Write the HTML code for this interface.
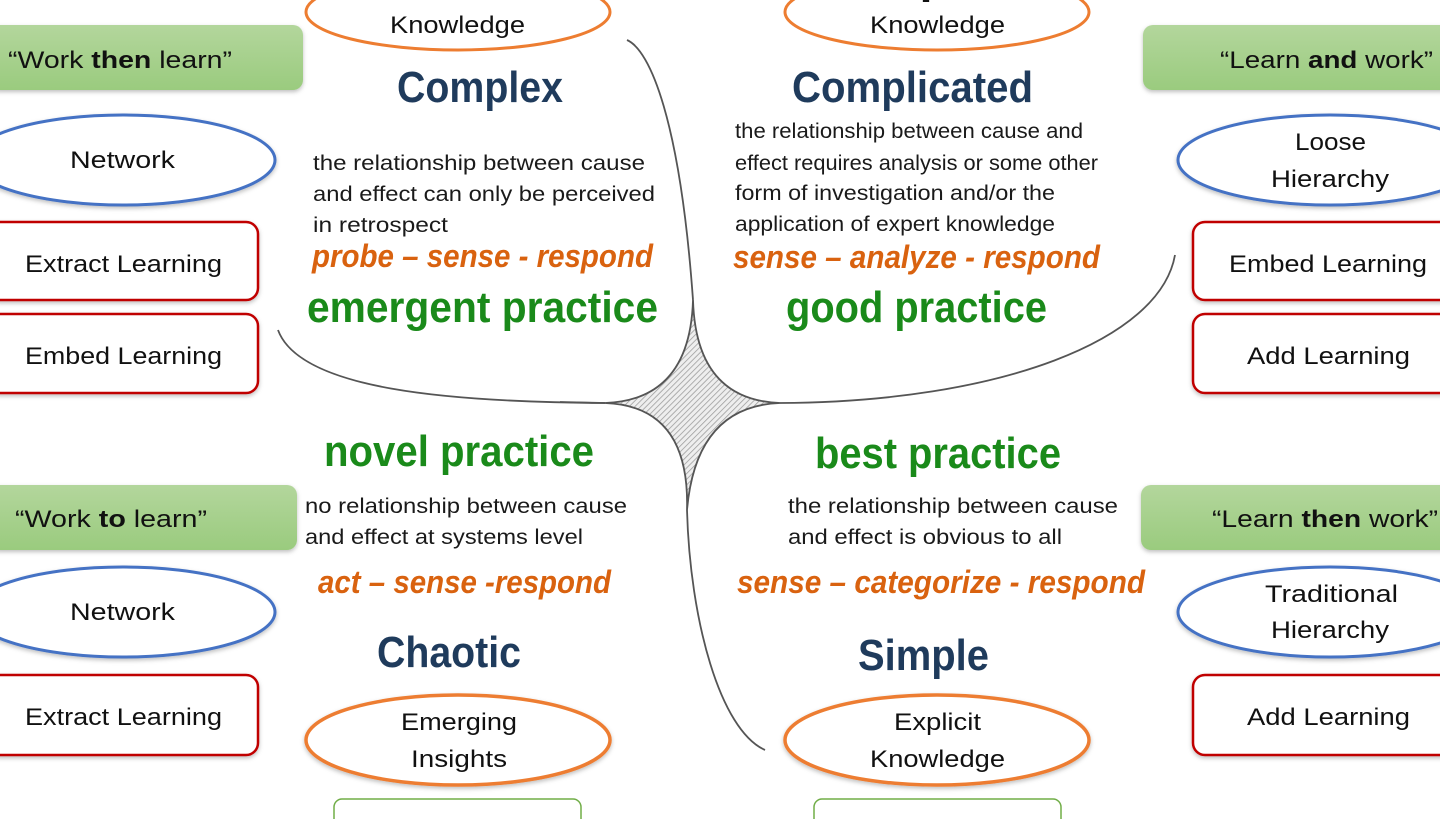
<!DOCTYPE html>
<html><head><meta charset="utf-8"><style>
html,body{margin:0;padding:0;background:#fff;width:1440px;height:819px;overflow:hidden}
svg{display:block}
text{font-family:"Liberation Sans",sans-serif}
.b{fill:#111;font-size:24px}
.body{fill:#1a1a1a;font-size:21px}
.h{fill:#1f3b5c;font-size:44px;font-weight:bold}
.o{fill:#d9620f;font-size:32px;font-weight:bold;font-style:italic}
.g{fill:#1a8a1a;font-size:44px;font-weight:bold}
</style></head><body>
<svg width="1440" height="819" viewBox="0 0 1440 819" xmlns="http://www.w3.org/2000/svg">
<defs>
<pattern id="hatch" width="4" height="4" patternUnits="userSpaceOnUse" patternTransform="rotate(45)">
<rect width="4" height="4" fill="#eee"/><line x1="0" y1="0" x2="0" y2="4" stroke="#999" stroke-width="1.5"/></pattern>
<linearGradient id="gr" x1="0" y1="0" x2="0" y2="1"><stop offset="0" stop-color="#b3d69c"/><stop offset="1" stop-color="#9acb7e"/></linearGradient>
<filter id="sh" x="-10%" y="-10%" width="120%" height="130%"><feDropShadow dx="0" dy="2" stdDeviation="2" flood-color="#000" flood-opacity="0.25"/></filter>
</defs>

<g fill="none" stroke="#555" stroke-width="1.8">
<path d="M627,40 C650,50 680,120 693,300"/>
<path d="M278,330 C300,390 450,402 605,403"/>
<path d="M1175,255 C1160,340 1000,402 780,403"/>
<path d="M687,510 C690,620 720,730 765,750"/>
<path d="M560,402 L605,403"/>
</g>
<path d="M605,403 Q690,400 693,300 Q696,400 780,403 Q696,406 687,510 Q690,406 605,403 Z" fill="url(#hatch)" stroke="#555" stroke-width="1.8"/>

<ellipse cx="458" cy="12" rx="152" ry="38" fill="#fff" stroke="#ed7d31" stroke-width="3"/>
<text class="b" x="390" y="33" textLength="135" lengthAdjust="spacingAndGlyphs">Knowledge</text>
<ellipse cx="937" cy="12" rx="152" ry="38" fill="#fff" stroke="#ed7d31" stroke-width="3"/>
<text class="b" x="870" y="33" textLength="135" lengthAdjust="spacingAndGlyphs">Knowledge</text>
<text class="b" x="918" y="-3" textLength="40" lengthAdjust="spacingAndGlyphs">p</text>

<rect x="-12" y="25" width="315" height="65" rx="10" fill="url(#gr)" filter="url(#sh)"/>
<text class="b" x="8" y="68" textLength="224" lengthAdjust="spacingAndGlyphs">“Work <tspan font-weight="bold">then</tspan> learn”</text>
<ellipse cx="123" cy="160" rx="152" ry="45" fill="#fff" stroke="#4472c4" stroke-width="3" filter="url(#sh)"/>
<text class="b" x="70" y="168" textLength="105" lengthAdjust="spacingAndGlyphs">Network</text>
<rect x="-12" y="222" width="270" height="78" rx="12" fill="#fff" stroke="#c00000" stroke-width="2.5" filter="url(#sh)"/>
<text class="b" x="25" y="272" textLength="197" lengthAdjust="spacingAndGlyphs">Extract Learning</text>
<rect x="-12" y="314" width="270" height="79" rx="12" fill="#fff" stroke="#c00000" stroke-width="2.5" filter="url(#sh)"/>
<text class="b" x="25" y="364" textLength="197" lengthAdjust="spacingAndGlyphs">Embed Learning</text>

<rect x="1143" y="25" width="310" height="65" rx="10" fill="url(#gr)" filter="url(#sh)"/>
<text class="b" x="1220" y="68" textLength="213" lengthAdjust="spacingAndGlyphs">“Learn <tspan font-weight="bold">and</tspan> work”</text>
<ellipse cx="1330" cy="160" rx="152" ry="45" fill="#fff" stroke="#4472c4" stroke-width="3" filter="url(#sh)"/>
<text class="b" x="1295" y="150" textLength="71" lengthAdjust="spacingAndGlyphs">Loose</text>
<text class="b" x="1271" y="187" textLength="118" lengthAdjust="spacingAndGlyphs">Hierarchy</text>
<rect x="1193" y="222" width="270" height="78" rx="12" fill="#fff" stroke="#c00000" stroke-width="2.5" filter="url(#sh)"/>
<text class="b" x="1229" y="272" textLength="198" lengthAdjust="spacingAndGlyphs">Embed Learning</text>
<rect x="1193" y="314" width="270" height="79" rx="12" fill="#fff" stroke="#c00000" stroke-width="2.5" filter="url(#sh)"/>
<text class="b" x="1247" y="364" textLength="163" lengthAdjust="spacingAndGlyphs">Add Learning</text>

<rect x="-12" y="485" width="309" height="65" rx="10" fill="url(#gr)" filter="url(#sh)"/>
<text class="b" x="15" y="527" textLength="192" lengthAdjust="spacingAndGlyphs">“Work <tspan font-weight="bold">to</tspan> learn”</text>
<ellipse cx="123" cy="612" rx="152" ry="45" fill="#fff" stroke="#4472c4" stroke-width="3" filter="url(#sh)"/>
<text class="b" x="70" y="620" textLength="105" lengthAdjust="spacingAndGlyphs">Network</text>
<rect x="-12" y="675" width="270" height="80" rx="12" fill="#fff" stroke="#c00000" stroke-width="2.5" filter="url(#sh)"/>
<text class="b" x="25" y="725" textLength="197" lengthAdjust="spacingAndGlyphs">Extract Learning</text>

<rect x="1141" y="485" width="312" height="65" rx="10" fill="url(#gr)" filter="url(#sh)"/>
<text class="b" x="1212" y="527" textLength="226" lengthAdjust="spacingAndGlyphs">“Learn <tspan font-weight="bold">then</tspan> work”</text>
<ellipse cx="1330" cy="612" rx="152" ry="45" fill="#fff" stroke="#4472c4" stroke-width="3" filter="url(#sh)"/>
<text class="b" x="1265" y="602" textLength="133" lengthAdjust="spacingAndGlyphs">Traditional</text>
<text class="b" x="1271" y="638" textLength="118" lengthAdjust="spacingAndGlyphs">Hierarchy</text>
<rect x="1193" y="675" width="270" height="80" rx="12" fill="#fff" stroke="#c00000" stroke-width="2.5" filter="url(#sh)"/>
<text class="b" x="1247" y="725" textLength="163" lengthAdjust="spacingAndGlyphs">Add Learning</text>

<ellipse cx="458" cy="740" rx="152" ry="45" fill="#fff" stroke="#ed7d31" stroke-width="3.5" filter="url(#sh)"/>
<text class="b" x="401" y="730" textLength="116" lengthAdjust="spacingAndGlyphs">Emerging</text>
<text class="b" x="411" y="767" textLength="96" lengthAdjust="spacingAndGlyphs">Insights</text>
<ellipse cx="937" cy="740" rx="152" ry="45" fill="#fff" stroke="#ed7d31" stroke-width="3.5" filter="url(#sh)"/>
<text class="b" x="894" y="730" textLength="87" lengthAdjust="spacingAndGlyphs">Explicit</text>
<text class="b" x="870" y="767" textLength="135" lengthAdjust="spacingAndGlyphs">Knowledge</text>
<rect x="334" y="799" width="247" height="40" rx="8" fill="#fff" stroke="#70ad47" stroke-width="1.5"/>
<rect x="814" y="799" width="247" height="40" rx="8" fill="#fff" stroke="#70ad47" stroke-width="1.5"/>

<text class="h" x="397" y="102" textLength="166" lengthAdjust="spacingAndGlyphs">Complex</text>
<text class="body" x="313" y="170" textLength="332" lengthAdjust="spacingAndGlyphs">the relationship between cause</text>
<text class="body" x="313" y="201" textLength="342" lengthAdjust="spacingAndGlyphs">and effect can only be perceived</text>
<text class="body" x="313" y="232" textLength="135" lengthAdjust="spacingAndGlyphs">in retrospect</text>
<text class="o" x="312" y="267" textLength="341" lengthAdjust="spacingAndGlyphs">probe – sense - respond</text>
<text class="g" x="307" y="322" textLength="351" lengthAdjust="spacingAndGlyphs">emergent practice</text>

<text class="h" x="792" y="102" textLength="241" lengthAdjust="spacingAndGlyphs">Complicated</text>
<text class="body" x="735" y="138" textLength="348" lengthAdjust="spacingAndGlyphs">the relationship between cause and</text>
<text class="body" x="735" y="170" textLength="363" lengthAdjust="spacingAndGlyphs">effect requires analysis or some other</text>
<text class="body" x="735" y="200" textLength="320" lengthAdjust="spacingAndGlyphs">form of investigation and/or the</text>
<text class="body" x="735" y="231" textLength="320" lengthAdjust="spacingAndGlyphs">application of expert knowledge</text>
<text class="o" x="733" y="268" textLength="367" lengthAdjust="spacingAndGlyphs">sense – analyze - respond</text>
<text class="g" x="786" y="322" textLength="261" lengthAdjust="spacingAndGlyphs">good practice</text>

<text class="g" x="324" y="466" textLength="270" lengthAdjust="spacingAndGlyphs">novel practice</text>
<text class="body" x="305" y="513" textLength="322" lengthAdjust="spacingAndGlyphs">no relationship between cause</text>
<text class="body" x="305" y="544" textLength="278" lengthAdjust="spacingAndGlyphs">and effect at systems level</text>
<text class="o" x="318" y="593" textLength="293" lengthAdjust="spacingAndGlyphs">act – sense -respond</text>
<text class="h" x="377" y="667" textLength="144" lengthAdjust="spacingAndGlyphs">Chaotic</text>

<text class="g" x="815" y="468" textLength="246" lengthAdjust="spacingAndGlyphs">best practice</text>
<text class="body" x="788" y="513" textLength="330" lengthAdjust="spacingAndGlyphs">the relationship between cause</text>
<text class="body" x="788" y="544" textLength="274" lengthAdjust="spacingAndGlyphs">and effect is obvious to all</text>
<text class="o" x="737" y="593" textLength="408" lengthAdjust="spacingAndGlyphs">sense – categorize - respond</text>
<text class="h" x="858" y="670" textLength="131" lengthAdjust="spacingAndGlyphs">Simple</text>
</svg>
</body></html>
